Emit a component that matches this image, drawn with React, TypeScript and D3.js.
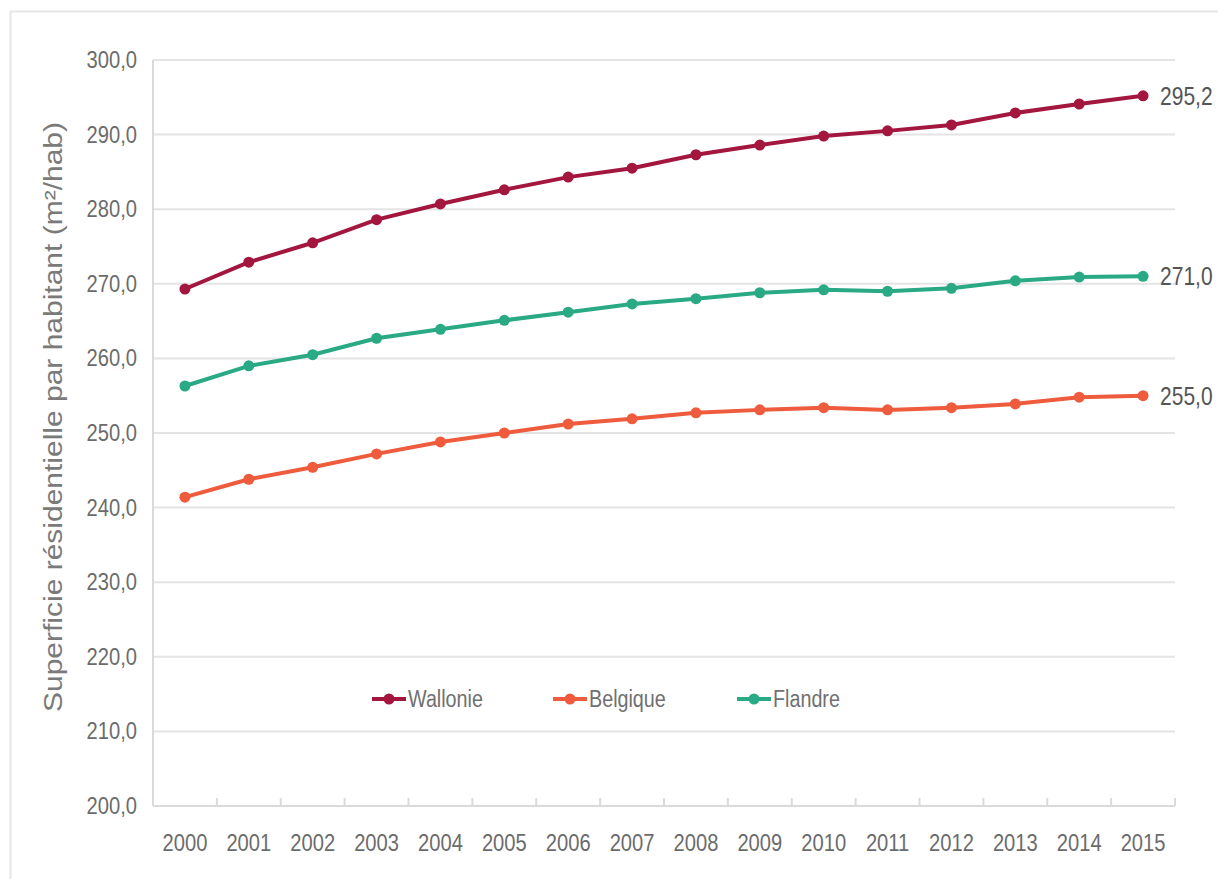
import * as d3 from "d3";
import React, { useEffect, useRef } from 'react'

const years = ["2000", "2001", "2002", "2003", "2004", "2005", "2006", "2007",
  "2008", "2009", "2010", "2011", "2012", "2013", "2014", "2015"]

const wallonie = [269.3, 272.9, 275.5, 278.6, 280.7, 282.6, 284.3, 285.5,
  287.3, 288.6, 289.8, 290.5, 291.3, 292.9, 294.1, 295.2]
const flandre = [256.3, 259.0, 260.5, 262.7, 263.9, 265.1, 266.2, 267.3,
  268.0, 268.8, 269.2, 269.0, 269.4, 270.4, 270.9, 271.0]
const belgique = [241.4, 243.8, 245.4, 247.2, 248.8, 250.0, 251.2, 251.9,
  252.7, 253.1, 253.4, 253.1, 253.4, 253.9, 254.8, 255.0]

const yTicks = [200, 210, 220, 230, 240, 250, 260, 270, 280, 290, 300]
const endLabels = ["295,2", "271,0", "255,0"]
const yTitle = "Superficie résidentielle par habitant (m²/hab)"

const series = [
  { name: "Wallonie", values: wallonie, color: "#a3173f", label: endLabels[0] },
  { name: "Belgique", values: belgique, color: "#ee5b3d", label: endLabels[2] },
  { name: "Flandre", values: flandre, color: "#2aa985", label: endLabels[1] },
]

const W = 1218
const H = 879
const FONT = "'Liberation Sans', Arial, sans-serif"
const SQ = 0.84 // text in the picture is squeezed horizontally

export default function App() {
  const ref = useRef<SVGSVGElement>(null)

  useEffect(() => {
    const svg = d3.select(ref.current)
    svg.selectAll("*").remove()

    const left = 153, right = 1175, top = 60, bottom = 806

    // outer frame
    svg.append("rect")
      .attr("x", 10.5).attr("y", 11.5)
      .attr("width", W + 20).attr("height", H + 20)
      .attr("fill", "#fff")
      .attr("stroke", "#e6e6e6").attr("stroke-width", 2)

    const x = d3.scalePoint<string>().domain(years).range([left, right]).padding(0.5)
    const y = d3.scaleLinear().domain([200, 300]).range([bottom, top])
    const step = x.step()

    // gridlines
    svg.append("g").selectAll("line")
      .data(yTicks.filter(t => t > 200))
      .enter().append("line")
      .attr("x1", left).attr("x2", right)
      .attr("y1", d => y(d)).attr("y2", d => y(d))
      .attr("stroke", "#e4e4e4").attr("stroke-width", 2)

    // axes
    const axis = svg.append("g").attr("stroke", "#dadada").attr("stroke-width", 2)
    axis.append("line").attr("x1", left).attr("x2", left).attr("y1", top).attr("y2", bottom)
    axis.append("line").attr("x1", left).attr("x2", right).attr("y1", bottom).attr("y2", bottom)
    axis.selectAll(".tk")
      .data(d3.range(years.length + 1))
      .enter().append("line")
      .attr("x1", i => left + i * step).attr("x2", i => left + i * step)
      .attr("y1", bottom).attr("y2", bottom - 8)

    const txt = (g: d3.Selection<any, any, any, any>, tx: number, ty: number, s: string,
      size: number, anchor: string, fill = "#6b6b6b") =>
      g.append("text")
        .attr("transform", `translate(${tx},${ty}) scale(${SQ},1)`)
        .attr("text-anchor", anchor)
        .attr("font-family", FONT)
        .attr("font-size", size)
        .attr("fill", fill)
        .text(s)

    const labels = svg.append("g")
    yTicks.forEach(t => txt(labels, 137, y(t) + 8, d3.format(".1f")(t).replace(".", ","), 24, "end"))
    years.forEach(yr => txt(labels, x(yr)!, 851, yr, 24, "middle"))

    labels.append("text")
      .attr("transform", `translate(62,417) rotate(-90) scale(1,${SQ})`)
      .attr("text-anchor", "middle")
      .attr("font-family", FONT)
      .attr("font-size", 30)
      .attr("fill", "#7a7a7a")
      .text(yTitle)

    const line = d3.line<number>()
      .x((_, i) => x(years[i])!)
      .y(d => y(d))

    series.forEach(s => {
      const g = svg.append("g")
      g.append("path")
        .attr("d", line(s.values))
        .attr("fill", "none")
        .attr("stroke", s.color)
        .attr("stroke-width", 4)
      g.selectAll("circle")
        .data(s.values)
        .enter().append("circle")
        .attr("cx", (_, i) => x(years[i])!)
        .attr("cy", d => y(d))
        .attr("r", 5.5)
        .attr("fill", s.color)
      const last = s.values[s.values.length - 1]
      txt(g, x(years[years.length - 1])! + 17, y(last) + 9, s.label, 25, "start", "#555")
    })

    // legend
    const legendX = [372, 553, 737]
    const legY = 699
    series.forEach((s, i) => {
      const g = svg.append("g")
      g.append("line")
        .attr("x1", legendX[i]).attr("x2", legendX[i] + 34)
        .attr("y1", legY).attr("y2", legY)
        .attr("stroke", s.color).attr("stroke-width", 4)
      g.append("circle").attr("cx", legendX[i] + 17).attr("cy", legY).attr("r", 5.5).attr("fill", s.color)
      txt(g, legendX[i] + 36, legY + 8, s.name, 23.5, "start", "#707070")
    })
  })

  return (
    <svg ref={ref} width={W} height={H}
      style={{ position: "absolute", left: 0, top: 0, background: "#fff" }} />
  )
}
